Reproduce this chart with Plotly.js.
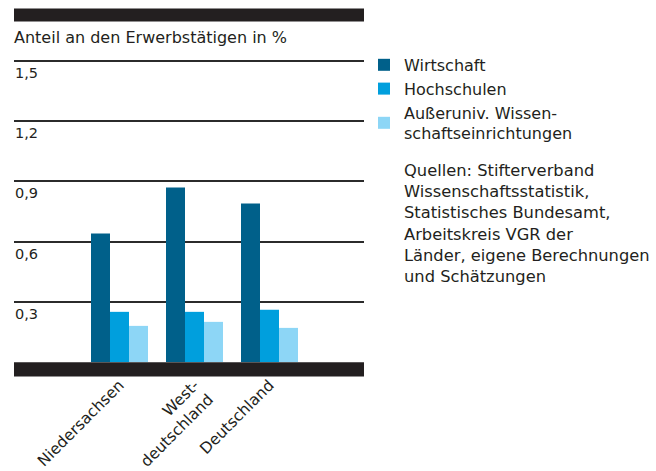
<!DOCTYPE html>
<html>
<head>
<meta charset="utf-8">
<script src="https://cdn.plot.ly/plotly-3.0.1.min.js"></script>
<style>
  html, body { margin: 0; padding: 0; background: #fff; }
  #chart { width: 656px; height: 471px; }
</style>
</head>
<body>
<div id="chart"></div>
<script>
// ---- data ----
const categories = ['Niedersachsen', 'Westdeutschland', 'Deutschland'];
const categoryLabels = ['Niedersachsen', 'West-<br>deutschland', 'Deutschland'];
const seriesNames = ['Wirtschaft', 'Hochschulen', 'Außeruniv. Wissen-<br>schaftseinrichtungen'];
const wirtschaft = [0.64, 0.87, 0.79];
const hochschulen = [0.25, 0.25, 0.26];
const ausseruniv = [0.18, 0.20, 0.17];
const yTickVals = [0.3, 0.6, 0.9, 1.2, 1.5];
const yTickText = ['0,3', '0,6', '0,9', '1,2', '1,5'];
const titleText = 'Anteil an den Erwerbstätigen in %';
const sourceText = 'Quellen: Stifterverband<br>Wissenschaftsstatistik,<br>Statistisches Bundesamt,<br>Arbeitskreis VGR der<br>Länder, eigene Berechnungen<br>und Schätzungen';

// ---- style ----
const colors = ['#00608a', '#009fdd', '#8dd6f6'];
const textColor = '#231f20';
const FONT = '"DejaVu Sans", "Open Sans", sans-serif';

const values = [wirtschaft, hochschulen, ausseruniv];
const traces = values.map((v, i) => ({
  type: 'bar',
  x: categories,
  y: v,
  name: seriesNames[i],
  marker: { color: colors[i], line: { width: 0 } },
  hoverinfo: 'skip'
}));

const W = 656, H = 471;
const plotLeft = 14, plotRight = 364, zeroY = 362.5, topY = 50.6;
const plotH = zeroY - topY;
const py = (px) => (zeroY - px) / plotH;   // pixel -> paper y
const px2 = (px) => (px - plotLeft) / (plotRight - plotLeft);

const layout = {
  width: W, height: H,
  margin: { l: plotLeft, r: W - plotRight, t: topY, b: H - zeroY, pad: 0 },
  paper_bgcolor: '#fff',
  plot_bgcolor: '#fff',
  font: { family: FONT, size: 14, color: textColor },
  barmode: 'group',
  bargap: 0.24,
  bargroupgap: 0,
  showlegend: true,
  title: {
    text: titleText,
    font: { family: FONT, size: 16, color: textColor },
    x: plotLeft / W, xanchor: 'left', xref: 'container',
    y: 1 - 37 / H, yanchor: 'middle', yref: 'container'
  },
  xaxis: {
    type: 'category',
    categoryorder: 'array',
    categoryarray: categories,
    tickmode: 'array',
    tickvals: categories,
    ticktext: categoryLabels,
    range: [-1.4067, 3.26],
    tickangle: -45,
    showgrid: false,
    zeroline: false,
    showline: false,
    ticks: '',
    tickfont: { family: FONT, size: 15.5, color: textColor },
    ticklabelstandoff: 10,
    fixedrange: true
  },
  yaxis: {
    range: [0, 1.55],
    tickmode: 'array',
    tickvals: yTickVals,
    ticktext: yTickText,
    showgrid: true,
    gridcolor: '#2b2b2b',
    gridwidth: 2,
    zeroline: false,
    showline: false,
    ticks: '',
    ticklabelposition: 'inside',
    ticklabelshift: 12,
    ticklabelstandoff: -2,
    tickfont: { family: FONT, size: 14.5, color: textColor },
    fixedrange: true
  },
  legend: {
    x: px2(364), xanchor: 'left', xref: 'paper',
    y: py(47.5), yanchor: 'top', yref: 'paper',
    font: { family: FONT, size: 16, color: textColor },
    bgcolor: 'rgba(0,0,0,0)',
    borderwidth: 0,
    tracegroupgap: 0,
    traceorder: 'normal',
    itemclick: false, itemdoubleclick: false
  },
  shapes: [
    { type: 'rect', xref: 'paper', yref: 'paper', x0: 0, x1: 1, y0: py(21), y1: py(8),
      fillcolor: '#231f20', line: { width: 0 }, layer: 'above' },
    { type: 'rect', xref: 'paper', yref: 'paper', x0: 0, x1: 1, y0: py(377), y1: py(362.8),
      fillcolor: '#231f20', line: { width: 0 }, layer: 'above' }
  ],
  annotations: [
    { text: sourceText, xref: 'paper', yref: 'paper', x: px2(402), y: py(158.5),
      xanchor: 'left', yanchor: 'top', align: 'left', showarrow: false,
      font: { family: FONT, size: 16.3, color: textColor } }
  ]
};

Plotly.newPlot('chart', traces, layout, { staticPlot: true, displayModeBar: false });
</script>
</body>
</html>
